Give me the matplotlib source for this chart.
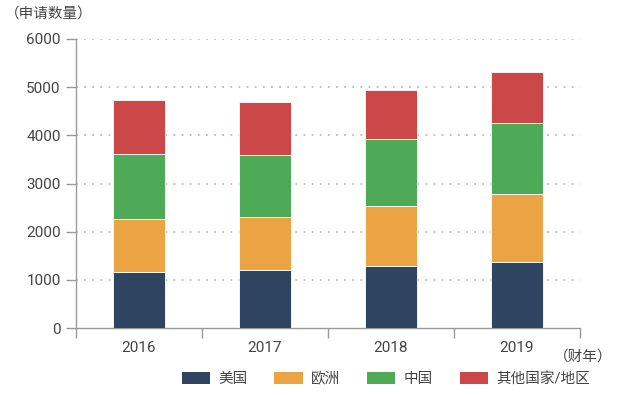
import matplotlib
matplotlib.use('Agg')
import matplotlib.pyplot as plt
from matplotlib.patches import Patch
import numpy as np

plt.rcParams['font.family'] = ['Roboto', 'Noto Sans CJK SC', 'DejaVu Sans']

# 数据
years = ['2016', '2017', '2018', '2019']
usa = [1160, 1200, 1280, 1380]
europe = [1110, 1110, 1260, 1400]
china = [1340, 1280, 1380, 1480]
others = [1130, 1100, 1020, 1050]
series_names = ['美国', '欧洲', '中国', '其他国家/地区']
colors = ['#2e4460', '#eaa443', '#4eaa57', '#cc4747']

fig = plt.figure(figsize=(6.25, 3.95), dpi=100)
ax = fig.add_axes([76 / 625, 1 - 328 / 395, 504 / 625, 289 / 395])

x = np.arange(len(years))
bottom = np.zeros(len(years))
for vals, col in zip([usa, europe, china, others], colors):
    ax.bar(x, vals, width=0.405, bottom=bottom, color=col,
           edgecolor='#ffffff', linewidth=0.6, zorder=3)
    bottom += np.array(vals)

ax.set_xlim(-0.5, 3.5)
ax.set_ylim(0, 6000)
ax.set_yticks(range(0, 6001, 1000))
ax.set_xticks(x)
ax.set_xticklabels(years)
ax.set_xticks(np.arange(-0.5, 4, 1), minor=True)
ax.tick_params(axis='x', which='major', length=0, pad=9,
               labelsize=11, labelcolor='#444444')
ax.tick_params(axis='x', which='minor', length=7, color='#999999', width=1)
ax.tick_params(axis='y', length=7, color='#999999', width=1, pad=4,
               labelsize=11, labelcolor='#444444')

for y in range(1000, 6001, 1000):
    ax.axhline(y, color='#bbbbbb', linestyle=(0, (1, 3.5)), linewidth=1.3, zorder=1)

for s in ['top', 'right']:
    ax.spines[s].set_visible(False)
for s in ['left', 'bottom']:
    ax.spines[s].set_color('#999999')
    ax.spines[s].set_linewidth(1)

fig.text(5 / 625, 1 - 14 / 395, '（申请数量）', fontsize=10.5, color='#444444',
         ha='left', va='center')
fig.text(612 / 625, 1 - 357 / 395, '（财年）', fontsize=10.5, color='#444444',
         ha='right', va='center')

handles = [Patch(facecolor=c, edgecolor='none') for c in colors]
fig.legend(handles, series_names, loc='center', bbox_to_anchor=(386 / 625, 1 - 379 / 395),
           ncol=4, frameon=False, fontsize=10.5, handlelength=1.95, handleheight=0.85,
           handletextpad=0.6, columnspacing=1.8, labelcolor='#444444')

fig.savefig('out.png', dpi=100)
